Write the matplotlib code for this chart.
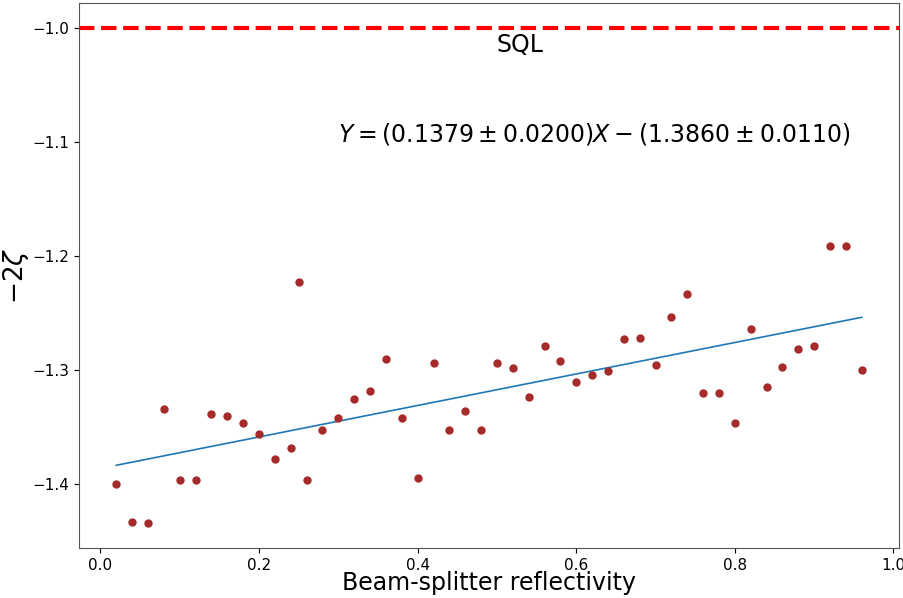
import numpy as np
import matplotlib
matplotlib.use("Agg")
import matplotlib.pyplot as plt

# ---- data ----
reflectivity = [0.02, 0.04, 0.06, 0.08, 0.10, 0.12, 0.14, 0.16, 0.18, 0.20,
                0.22, 0.24, 0.25, 0.26, 0.28, 0.30, 0.32, 0.34, 0.36, 0.38,
                0.40, 0.42, 0.44, 0.46, 0.48, 0.50, 0.52, 0.54, 0.56, 0.58,
                0.60, 0.62, 0.64, 0.66, 0.68, 0.70, 0.72, 0.74, 0.76, 0.78,
                0.80, 0.82, 0.84, 0.86, 0.88, 0.90, 0.92, 0.94, 0.96]
minus_2zeta = [-1.400, -1.433, -1.434, -1.334, -1.396, -1.396, -1.338, -1.340, -1.346, -1.356,
               -1.378, -1.368, -1.223, -1.396, -1.352, -1.342, -1.325, -1.318, -1.290, -1.342,
               -1.394, -1.294, -1.352, -1.336, -1.352, -1.294, -1.298, -1.323, -1.279, -1.292,
               -1.310, -1.304, -1.301, -1.273, -1.272, -1.295, -1.253, -1.233, -1.320, -1.320,
               -1.346, -1.264, -1.315, -1.297, -1.281, -1.279, -1.191, -1.191, -1.300]

slope, slope_err = 0.1379, 0.0200
intercept, intercept_err = -1.3860, 0.0110
sql_level = -1.0

x = np.array(reflectivity)
y = np.array(minus_2zeta)

fig = plt.figure(figsize=(9.04, 5.98), dpi=100)
ax = fig.add_axes([0.0874, 0.0836, 0.9071, 0.9114])

ax.scatter(x, y, s=25, color='brown', zorder=3)
fit_x = np.array([x.min(), x.max()])
ax.plot(fit_x, slope * fit_x + intercept, color='#1f77b4', lw=1.2)
ax.axhline(sql_level, color='red', ls='--', lw=3)

ax.text(0.5, -1.021, 'SQL', fontsize=17)
ax.text(0.3, -1.1, r'$Y=(%.4f\pm%.4f)X-(%.4f\pm%.4f)$'
        % (slope, slope_err, -intercept, intercept_err), fontsize=17)

ax.set_xlabel('Beam-splitter reflectivity', fontsize=17, labelpad=-1)
ax.set_ylabel(r'$-2\zeta$', fontsize=19)
ax.yaxis.set_label_coords(-0.058, 0.5)
ax.set_yticks([-1.0, -1.1, -1.2, -1.3, -1.4])
ax.tick_params(labelsize=11)
for s in ax.spines.values():
    s.set_color('#555555')

fig.savefig('out.png', dpi=100)
